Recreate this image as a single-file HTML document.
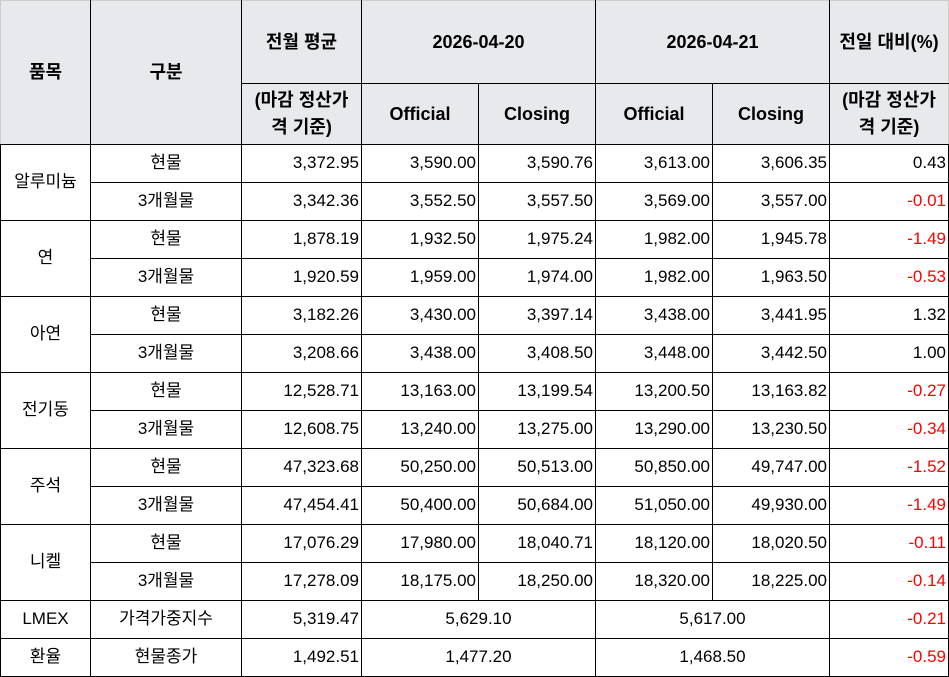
<!DOCTYPE html>
<html><head><meta charset="utf-8"><style>
body{margin:0;background:#fff;}
table{position:absolute;left:0;top:0;border-collapse:collapse;table-layout:fixed;font-family:"Liberation Sans","Noto Sans CJK KR",sans-serif;font-size:17px;color:#000;}
td{border:1px solid #000;padding:0 2px;white-space:nowrap;overflow:hidden;line-height:1.1;}
td.n{text-align:right;}
td.c{text-align:center;}
th{background:#e7e9ec;border:1px solid #000;font-weight:bold;font-size:18px;padding:0 2px;line-height:1.5;white-space:nowrap;}
.r{color:#ff0000;}
tr.d td{height:37px;}
</style></head><body>
<table>
<colgroup><col style="width:90px"><col style="width:151px"><col style="width:120px"><col style="width:117px"><col style="width:117px"><col style="width:117px"><col style="width:117px"><col style="width:119px"></colgroup>
<tr style="height:83px"><th rowspan="2" style="border-top-color:#ccc;border-left-color:#ccc">품목</th><th rowspan="2" style="border-top-color:#ccc">구분</th><th style="border-top-color:#ccc">전월 평균</th><th colspan="2" style="border-top-color:#ccc">2026-04-20</th><th colspan="2" style="border-top-color:#ccc">2026-04-21</th><th style="border-top-color:#ccc;border-right-color:#ccc">전일 대비(%)</th></tr>
<tr style="height:61px"><th>(마감 정산가<br>격 기준)</th><th>Official</th><th>Closing</th><th>Official</th><th>Closing</th><th style="border-right-color:#ccc">(마감 정산가<br>격 기준)</th></tr>
<tr class="d"><td class="c" rowspan="2">알루미늄</td><td class="c">현물</td><td class="n">3,372.95</td><td class="n">3,590.00</td><td class="n">3,590.76</td><td class="n">3,613.00</td><td class="n">3,606.35</td><td class="n">0.43</td></tr>
<tr class="d"><td class="c">3개월물</td><td class="n">3,342.36</td><td class="n">3,552.50</td><td class="n">3,557.50</td><td class="n">3,569.00</td><td class="n">3,557.00</td><td class="n r">-0.01</td></tr>
<tr class="d"><td class="c" rowspan="2">연</td><td class="c">현물</td><td class="n">1,878.19</td><td class="n">1,932.50</td><td class="n">1,975.24</td><td class="n">1,982.00</td><td class="n">1,945.78</td><td class="n r">-1.49</td></tr>
<tr class="d"><td class="c">3개월물</td><td class="n">1,920.59</td><td class="n">1,959.00</td><td class="n">1,974.00</td><td class="n">1,982.00</td><td class="n">1,963.50</td><td class="n r">-0.53</td></tr>
<tr class="d"><td class="c" rowspan="2">아연</td><td class="c">현물</td><td class="n">3,182.26</td><td class="n">3,430.00</td><td class="n">3,397.14</td><td class="n">3,438.00</td><td class="n">3,441.95</td><td class="n">1.32</td></tr>
<tr class="d"><td class="c">3개월물</td><td class="n">3,208.66</td><td class="n">3,438.00</td><td class="n">3,408.50</td><td class="n">3,448.00</td><td class="n">3,442.50</td><td class="n">1.00</td></tr>
<tr class="d"><td class="c" rowspan="2">전기동</td><td class="c">현물</td><td class="n">12,528.71</td><td class="n">13,163.00</td><td class="n">13,199.54</td><td class="n">13,200.50</td><td class="n">13,163.82</td><td class="n r">-0.27</td></tr>
<tr class="d"><td class="c">3개월물</td><td class="n">12,608.75</td><td class="n">13,240.00</td><td class="n">13,275.00</td><td class="n">13,290.00</td><td class="n">13,230.50</td><td class="n r">-0.34</td></tr>
<tr class="d"><td class="c" rowspan="2">주석</td><td class="c">현물</td><td class="n">47,323.68</td><td class="n">50,250.00</td><td class="n">50,513.00</td><td class="n">50,850.00</td><td class="n">49,747.00</td><td class="n r">-1.52</td></tr>
<tr class="d"><td class="c">3개월물</td><td class="n">47,454.41</td><td class="n">50,400.00</td><td class="n">50,684.00</td><td class="n">51,050.00</td><td class="n">49,930.00</td><td class="n r">-1.49</td></tr>
<tr class="d"><td class="c" rowspan="2">니켈</td><td class="c">현물</td><td class="n">17,076.29</td><td class="n">17,980.00</td><td class="n">18,040.71</td><td class="n">18,120.00</td><td class="n">18,020.50</td><td class="n r">-0.11</td></tr>
<tr class="d"><td class="c">3개월물</td><td class="n">17,278.09</td><td class="n">18,175.00</td><td class="n">18,250.00</td><td class="n">18,320.00</td><td class="n">18,225.00</td><td class="n r">-0.14</td></tr>
<tr class="d"><td class="c" style="height:36px">LMEX</td><td class="c">가격가중지수</td><td class="n">5,319.47</td><td class="c" colspan="2">5,629.10</td><td class="c" colspan="2">5,617.00</td><td class="n r">-0.21</td></tr>
<tr class="d"><td class="c" style="height:36px">환율</td><td class="c">현물종가</td><td class="n">1,492.51</td><td class="c" colspan="2">1,477.20</td><td class="c" colspan="2">1,468.50</td><td class="n r">-0.59</td></tr>
</table>
</body></html>
